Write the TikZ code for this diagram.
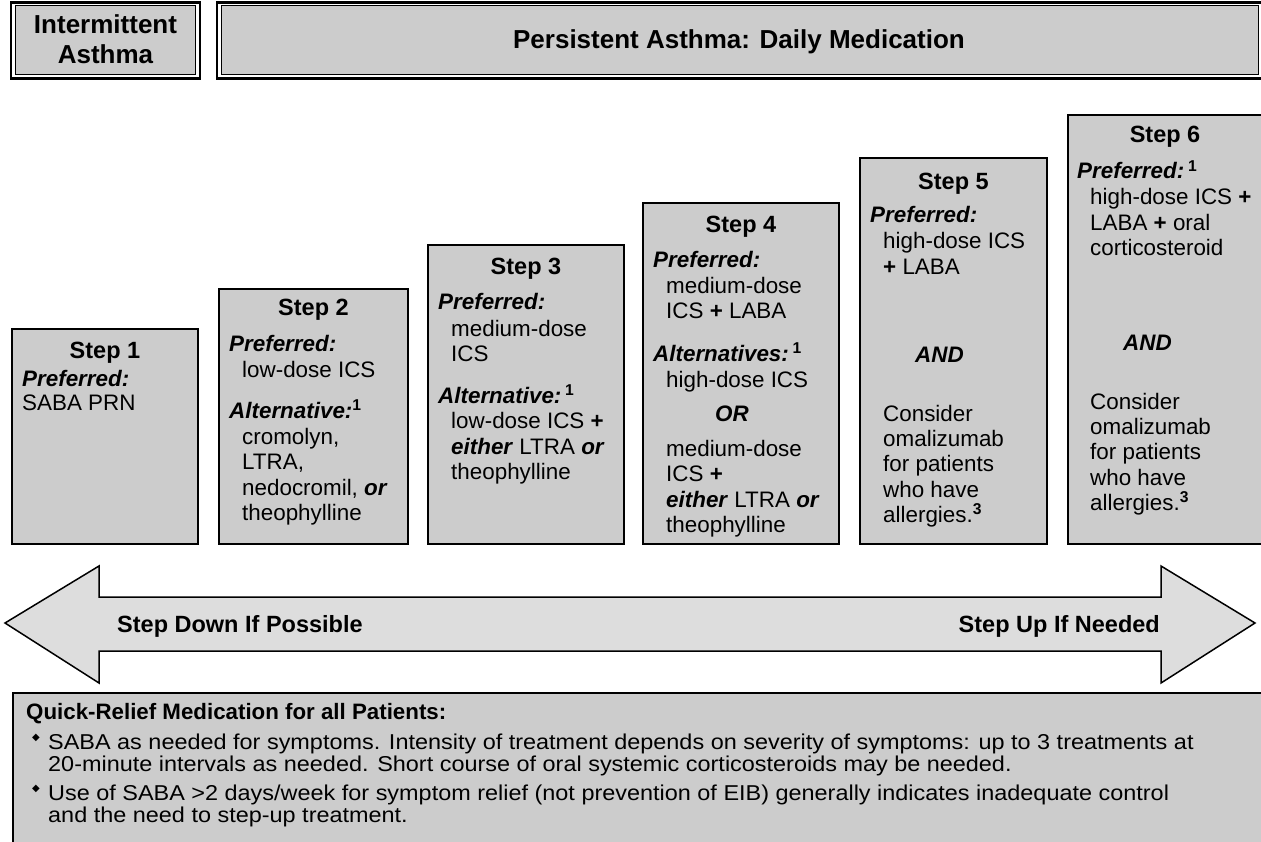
\documentclass[tikz,border=0pt]{standalone}
\usepackage{fontspec}
\setmainfont{Liberation Sans}
\newfontfamily\symfont{DejaVu Sans}
\newfontfamily\qfont[FakeStretch=1.09]{Liberation Sans}
\definecolor{boxgray}{HTML}{CCCCCC}
\definecolor{arrowgray}{HTML}{DDDDDD}
\newcommand\myBI[1]{\textbf{\textit{#1}}}
\newcommand\mySup[1]{\textsuperscript{\textbf{#1}}}
\newcommand\myPlus{\textbf{+}}
\begin{document}
\begin{tikzpicture}[x=1pt,y=-1pt,
  stepbox/.style={draw=black,line width=2.8pt,fill=boxgray,inner sep=0pt,outer sep=0pt,anchor=north west},
  hdrouter/.style={draw=black,line width=2.6pt,fill=white,inner sep=0pt,outer sep=0pt,anchor=north west},
  hdrinner/.style={draw=black,line width=1pt,fill=boxgray,inner sep=0pt,outer sep=0pt,anchor=north west},
  steptitle/.style={font=\bfseries\fontsize{23.5}{27}\selectfont,anchor=base,inner sep=0pt},
  body/.style={font=\fontsize{22.4}{25.5}\selectfont,anchor=base west,inner sep=0pt},
  hdrtext/.style={font=\bfseries\fontsize{26}{30}\selectfont,anchor=base,inner sep=0pt},
  arrowtext/.style={font=\bfseries\fontsize{23.5}{27}\selectfont,inner sep=0pt},
  qtitle/.style={font=\bfseries\fontsize{22.3}{26}\selectfont,anchor=base west,inner sep=0pt},
  qtext/.style={font=\qfont\fontsize{21.5}{22}\selectfont,anchor=base west,inner sep=0pt},
  qbullet/.style={font=\symfont\fontsize{10}{10}\selectfont,inner sep=0pt},
  bigarrow/.style={draw=black,line width=1.5pt,fill=arrowgray,line join=miter}
]
\useasboundingbox (0,0) rectangle (1261,842);

% ---------- header ----------
\node[hdrouter,minimum width=189pt,minimum height=76pt] (ho1) at (11,2.5) {};
\node[hdrinner,minimum width=180pt,minimum height=69pt] (hi1) at (15.5,6) {};
\node[hdrouter,minimum width=1047pt,minimum height=76pt] (ho2) at (217,2.5) {};
\node[hdrinner,minimum width=1037pt,minimum height=69pt] (hi2) at (221.5,6) {};
\node[hdrtext] (hint1) at (105.5,34) {Intermittent};
\node[hdrtext] (hint2) at (105.5,64) {Asthma};
\node[hdrtext] (hpers) at (739,49) {Persistent Asthma: Daily Medication};

% ---------- step boxes ----------
\node[stepbox,minimum width=186pt,minimum height=215pt] (s1) at (12,329) {};
\node[stepbox,minimum width=189pt,minimum height=255pt] (s2) at (219,289) {};
\node[stepbox,minimum width=196pt,minimum height=299pt] (s3) at (428,245) {};
\node[stepbox,minimum width=196pt,minimum height=341pt] (s4) at (643,203) {};
\node[stepbox,minimum width=187pt,minimum height=386pt] (s5) at (860,158) {};
\node[stepbox,minimum width=198pt,minimum height=429pt] (s6) at (1068,115) {};

% Step 1
\node[steptitle] (s1h) at (105,359) {Step 1};
\node[body] (s1p) at (22,386) {\myBI{Preferred:}};
\node[body] (s1a) at (22,410) {SABA PRN};

% Step 2
\node[steptitle] (s2h) at (313.5,316) {Step 2};
\node[body] (s2p) at (229,351) {\myBI{Preferred:}};
\node[body] (s2p1) at (242,377) {low-dose ICS};
\node[body] (s2a) at (229,418) {\myBI{Alternative:}\mySup{1}};
\node[body] (s2a1) at (242,444) {cromolyn,};
\node[body] (s2a2) at (242,469) {LTRA,};
\node[body] (s2a3) at (242,495) {nedocromil, \myBI{or}};
\node[body] (s2a4) at (242,520) {theophylline};

% Step 3
\node[steptitle] (s3h) at (526,275) {Step 3};
\node[body] (s3p) at (438,310) {\myBI{Preferred:}};
\node[body] (s3p1) at (451,336) {medium-dose};
\node[body] (s3p2) at (451,361) {ICS};
\node[body] (s3a) at (438,403) {\myBI{Alternative:}\,\mySup{1}};
\node[body] (s3a1) at (451,428) {low-dose ICS \myPlus};
\node[body] (s3a2) at (451,454) {\myBI{either} LTRA \myBI{or}};
\node[body] (s3a3) at (451,479) {theophylline};

% Step 4
\node[steptitle] (s4h) at (741,233) {Step 4};
\node[body] (s4p) at (653,268) {\myBI{Preferred:}};
\node[body] (s4p1) at (666,294) {medium-dose};
\node[body] (s4p2) at (666,319) {ICS \myPlus{} LABA};
\node[body] (s4a) at (653,361) {\myBI{Alternatives:}\,\mySup{1}};
\node[body] (s4a1) at (666,387) {high-dose ICS};
\node[body] (s4or) at (715,421) {\myBI{OR}};
\node[body] (s4a2) at (666,456) {medium-dose};
\node[body] (s4a3) at (666,481) {ICS \myPlus};
\node[body] (s4a4) at (666,507) {\myBI{either} LTRA \myBI{or}};
\node[body] (s4a5) at (666,532) {theophylline};

% Step 5
\node[steptitle] (s5h) at (953.5,190) {Step 5};
\node[body] (s5p) at (870,223) {\myBI{Preferred:}};
\node[body] (s5p1) at (883,249) {high-dose ICS};
\node[body] (s5p2) at (883,275) {\myPlus{} LABA};
\node[body] (s5and) at (915,362) {\myBI{AND}};
\node[body] (s5c1) at (883,421) {Consider};
\node[body] (s5c2) at (883,446) {omalizumab};
\node[body] (s5c3) at (883,471) {for patients};
\node[body] (s5c4) at (883,497) {who have};
\node[body] (s5c5) at (883,522) {allergies.\mySup{3}};

% Step 6
\node[steptitle] (s6h) at (1165,143) {Step 6};
\node[body] (s6p) at (1077,179) {\myBI{Preferred:}\,\mySup{1}};
\node[body] (s6p1) at (1090,205) {high-dose ICS \myPlus};
\node[body] (s6p2) at (1090,231) {LABA \myPlus{} oral};
\node[body] (s6p3) at (1090,256) {corticosteroid};
\node[body] (s6and) at (1123,350) {\myBI{AND}};
\node[body] (s6c1) at (1090,409) {Consider};
\node[body] (s6c2) at (1090,434) {omalizumab};
\node[body] (s6c3) at (1090,459) {for patients};
\node[body] (s6c4) at (1090,485) {who have};
\node[body] (s6c5) at (1090,510) {allergies.\mySup{3}};

% ---------- double arrow ----------
\draw[bigarrow] (5,623) -- (99,566) -- (99,597) -- (1161,597) -- (1161,566)
  -- (1255,623) -- (1161,683) -- (1161,651) -- (99,651) -- (99,683) -- cycle;
\node[arrowtext,anchor=base west] (down) at (117,632) {Step Down If Possible};
\node[arrowtext,anchor=base east] (up) at (1160,632) {Step Up If Needed};

% ---------- quick relief ----------
\node[stepbox,minimum width=1260pt,minimum height=170pt] (qbox) at (13,693) {};
\node[qtitle] (qt) at (26,719) {Quick-Relief Medication for all Patients:};
\node[qbullet] (qb1) at (36,738) {◆};
\node[qtext] (q11) at (48,749) {SABA as needed for symptoms. Intensity of treatment depends on severity of symptoms: up to 3 treatments at};
\node[qtext] (q12) at (48,771) {20-minute intervals as needed. Short course of oral systemic corticosteroids may be needed.};
\node[qbullet] (qb2) at (36,789) {◆};
\node[qtext] (q21) at (48,800) {Use of SABA >2 days/week for symptom relief (not prevention of EIB) generally indicates inadequate control};
\node[qtext] (q22) at (48,822) {and the need to step-up treatment.};
\end{tikzpicture}
\end{document}
